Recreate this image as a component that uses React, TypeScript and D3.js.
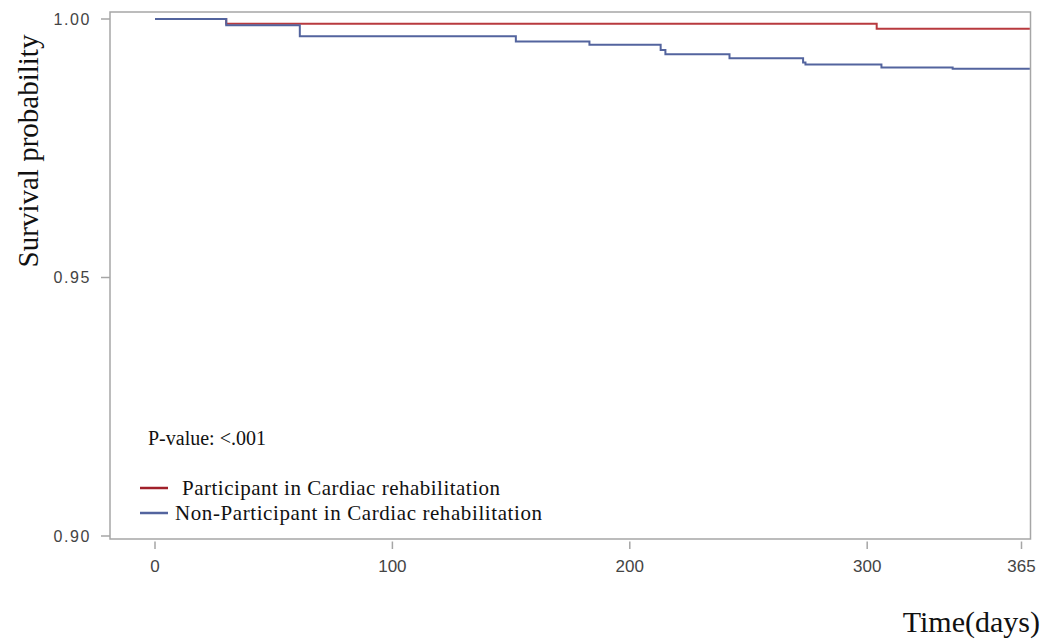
import React from "react";
import * as d3 from "d3";

// ---- data ----
const participantDays = [0, 30, 304];
const participantSurv = [1.0, 0.9991, 0.9981];
const nonParticipantDays = [0, 30, 61, 152, 183, 213, 215, 242, 273, 274, 306, 336];
const nonParticipantSurv = [1.0, 0.9988, 0.99665, 0.99565, 0.995, 0.994, 0.9932, 0.9924, 0.9916, 0.9912, 0.9906, 0.9904];
const followUpEnd = 368.5;
const xTicks = [0, 100, 200, 300, 365];
const yTicks = [0.9, 0.95, 1.0];
const seriesNames = ["Participant in Cardiac rehabilitation", "Non-Participant in Cardiac rehabilitation"];
const pValueText = "P-value: <.001";

const W = 1046;
const H = 644;
const frame = { left: 110, right: 1030.5, top: 12, bottom: 539 };
const RED = "#B83A3F";
const BLUE = "#53649E";

export default function App() {
  const x = d3.scaleLinear().domain([0, 365]).range([155, 1021.5]);
  const y = d3.scaleLinear().domain([0.9, 1.0]).range([536, 19]);

  const line = d3
    .line<[number, number]>()
    .x((d) => x(d[0]))
    .y((d) => y(d[1]))
    .curve(d3.curveStepAfter);

  const mk = (days: number[], surv: number[]): [number, number][] => {
    const pts: [number, number][] = days.map((t, i) => [t, surv[i]]);
    pts.push([followUpEnd, surv[surv.length - 1]]);
    return pts;
  };

  const series = [
    { name: seriesNames[0], color: RED, pts: mk(participantDays, participantSurv) },
    { name: seriesNames[1], color: BLUE, pts: mk(nonParticipantDays, nonParticipantSurv) },
  ];

  const serif = "'Liberation Serif', 'Times New Roman', serif";
  const sans = "'Liberation Sans', Arial, sans-serif";

  return (
    <svg
      width={W}
      height={H}
      style={{ position: "absolute", left: 0, top: 0, background: "#fff" }}
    >
      <rect x={0} y={0} width={W} height={H} fill="#fff" />
      {/* frame */}
      <rect
        x={frame.left}
        y={frame.top}
        width={frame.right - frame.left}
        height={frame.bottom - frame.top}
        fill="none"
        stroke="#a6a6a6"
        strokeWidth={1.5}
      />
      {/* y ticks */}
      {yTicks.map((t) => (
        <g key={t}>
          <line x1={101} x2={frame.left} y1={y(t)} y2={y(t)} stroke="#a6a6a6" strokeWidth={1.5} />
          <text
            x={91}
            y={y(t)}
            textAnchor="end"
            dominantBaseline="central"
            fontFamily={sans}
            fontSize={16}
            letterSpacing={1.6}
            fill="#444"
          >
            {t.toFixed(2)}
          </text>
        </g>
      ))}
      {/* x ticks */}
      {xTicks.map((t) => (
        <g key={t}>
          <line x1={x(t)} x2={x(t)} y1={541.5} y2={549} stroke="#a6a6a6" strokeWidth={1.5} />
          <text
            x={x(t)}
            y={566}
            textAnchor="middle"
            dominantBaseline="central"
            fontFamily={sans}
            fontSize={17}
            fill="#444"
          >
            {t}
          </text>
        </g>
      ))}
      {/* curves */}
      {series.map((s) => (
        <path key={s.name} d={line(s.pts) || ""} fill="none" stroke={s.color} strokeWidth={2} />
      ))}
      {/* p-value */}
      <text x={148} y={445} fontFamily={serif} fontSize={20} fill="#111">
        {pValueText}
      </text>
      {/* legend */}
      <line x1={140} x2={168} y1={488} y2={488} stroke="#A0202A" strokeWidth={2.5} />
      <text x={182} y={495} fontFamily={serif} fontSize={21} fill="#111" textLength={318} lengthAdjust="spacing">
        {seriesNames[0]}
      </text>
      <line x1={140} x2={168} y1={513} y2={513} stroke={BLUE} strokeWidth={2.5} />
      <text x={175} y={520} fontFamily={serif} fontSize={21} fill="#111" textLength={367} lengthAdjust="spacing">
        {seriesNames[1]}
      </text>
      {/* axis titles */}
      <text
        transform={`translate(38, 151) rotate(-90)`}
        textAnchor="middle"
        fontFamily={serif}
        fontSize={29}
        fill="#111"
      >
        Survival probability
      </text>
      <text x={1040} y={632} textAnchor="end" fontFamily={serif} fontSize={30} fill="#111">
        Time(days)
      </text>
    </svg>
  );
}
